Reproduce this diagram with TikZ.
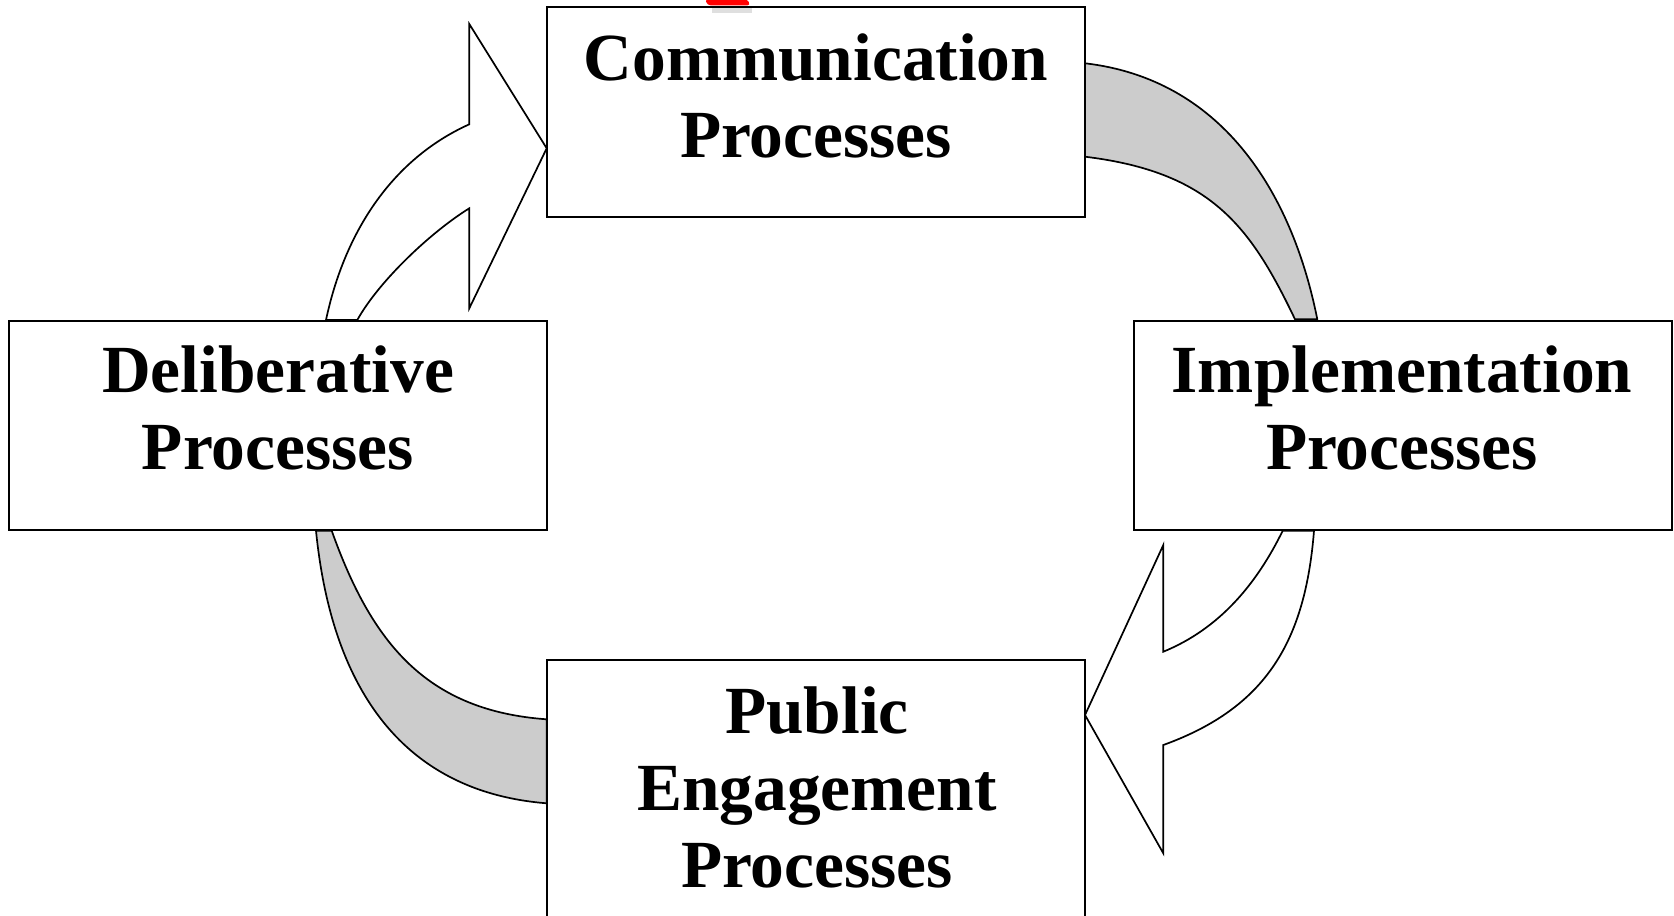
\documentclass[tikz,border=0pt]{standalone}
\usepackage{fontspec}
\setmainfont{Liberation Serif}
\definecolor{bandgray}{RGB}{204,204,204}
\definecolor{markred}{RGB}{255,0,0}
\begin{document}
\begin{tikzpicture}[x=0.5pt,y=-0.5pt,
  procbox/.style={draw=black, line width=1pt, fill=white, rectangle, inner sep=0pt,
                  minimum width=269pt, minimum height=104.6pt},
  proclabel/.style={font=\bfseries\fontsize{33.7}{38.5}\selectfont, align=center, inner sep=0pt},
  band/.style={draw=black, line width=0.85pt, fill=bandgray, line join=round},
  openarrow/.style={draw=black, line width=0.85pt, fill=white, line join=miter}]
\clip (0,0) rectangle (1674,915);
\fill[white] (0,0) rectangle (1674,915);

% curved links between the four process boxes
\draw[openarrow] (326,320) .. controls (344,235) and (390,160) .. (469.3,124.3)
  -- (469.3,24) -- (546.7,148.3) -- (469.3,308.3) -- (469.3,208.3)
  .. controls (431,232) and (379,281) .. (357.3,320) -- cycle;
\draw[band] (1085,63.3) .. controls (1220,79) and (1291.3,189.3) .. (1317.3,319.3)
  -- (1295,319.3) .. controls (1250,225) and (1210,172) .. (1085,156.7) -- cycle;
\draw[openarrow] (1314,530.7) .. controls (1305.2,640.7) and (1266.7,707.6) .. (1163.3,745)
  -- (1163.3,853.3) -- (1085,715) -- (1163.3,545) -- (1163.3,651.7)
  .. controls (1218.9,629) and (1256.3,584.7) .. (1282.7,530.7) -- cycle;
\draw[band] (316,530.7) .. controls (331,680.7) and (396.7,791.3) .. (546.7,803.3)
  -- (546.7,719.3) .. controls (426.7,710.7) and (371.9,643.5) .. (331.7,530.7) -- cycle;

% process boxes
\node[procbox] (comm) at (815.65,112.1) {};
\node[procbox] (delib) at (277.55,425.15) {};
\node[procbox] (impl) at (1402.5,425.15) {};
\node[procbox, minimum height=140pt] (pub) at (815.65,800) {};

% small red mark on the top edge
\fill[gray, opacity=0.25] (712,8) rectangle (752,13);
\fill[markred, rounded corners=2pt] (705,-2) -- (746,-2) -- (751,5.5) -- (707,5.5) -- cycle;

% labels
\node[proclabel] (commtxt) at (816,95.5) {Communication\\Processes};
\node[proclabel] (delibtxt) at (278,408) {Deliberative\\Processes};
\node[proclabel] (impltxt) at (1402,408) {Implementation\\Processes};
\node[proclabel] (pubtxt) at (817,787) {Public\\Engagement\\Processes};
\end{tikzpicture}
\end{document}
